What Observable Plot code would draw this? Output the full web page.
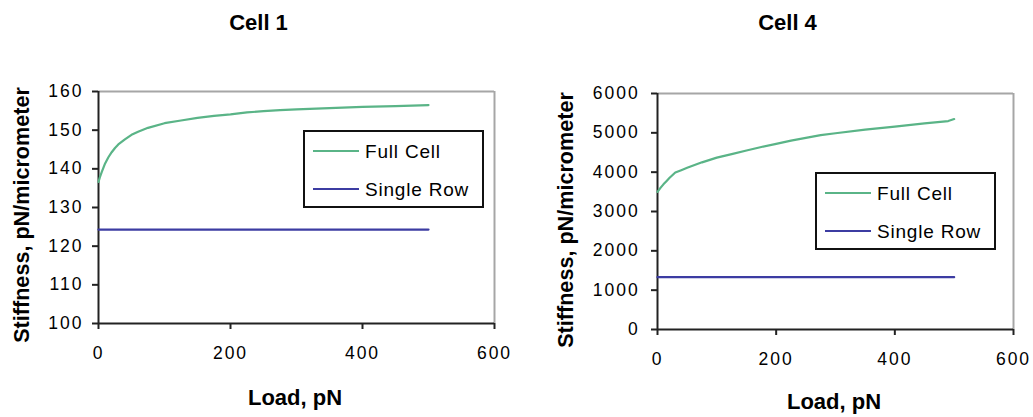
<!DOCTYPE html>
<html>
<head>
<meta charset="utf-8">
<script src="https://cdn.jsdelivr.net/npm/d3@7"></script>
<script src="https://cdn.jsdelivr.net/npm/@observablehq/plot@0.6"></script>
<style>
  html, body { margin: 0; padding: 0; background: #fff; }
  #wrap { position: relative; width: 1033px; height: 417px; overflow: hidden; background: #fff; }
  #wrap > .panel { position: absolute; top: 0; }
  #overlay { position: absolute; left: 0; top: 0; pointer-events: none; }
  .panel svg text { letter-spacing: 2px; }
</style>
</head>
<body>
<div id="wrap">
  <div class="panel" id="p1" style="left:0px"></div>
  <div class="panel" id="p2" style="left:516px"></div>
  <svg id="overlay" width="1033" height="417" font-family="Arial, 'Liberation Sans', sans-serif"></svg>
</div>
<script>
// ---- data ----
const loadTicks = [0, 200, 400, 600];
const cell1Ticks = [100, 110, 120, 130, 140, 150, 160];
const cell4Ticks = [0, 1000, 2000, 3000, 4000, 5000, 6000];

const cell1Load = [0, 2, 5, 10, 15, 20, 25, 30, 40, 50, 60, 75, 100, 125, 150, 175, 200, 225, 250, 275, 300, 350, 400, 450, 500];
const cell1Full = [136.6, 137.8, 139.2, 141.4, 143.0, 144.3, 145.4, 146.3, 147.6, 148.8, 149.6, 150.6, 151.8, 152.5, 153.2, 153.7, 154.1, 154.6, 154.9, 155.2, 155.4, 155.7, 156.0, 156.2, 156.5];
const cell1SingleLoad = [0, 500];
const cell1Single = [124.3, 124.3];

const cell4Load = [0, 5, 10, 15, 20, 25, 30, 40, 50, 75, 100, 125, 150, 175, 200, 225, 250, 275, 300, 350, 400, 450, 490, 500];
const cell4Full = [3500, 3600, 3690, 3770, 3850, 3920, 3990, 4050, 4110, 4250, 4370, 4460, 4550, 4640, 4720, 4800, 4870, 4940, 4990, 5080, 5160, 5240, 5300, 5350];
const cell4SingleLoad = [0, 500];
const cell4Single = [1330, 1330];

const titles = ["Cell 1", "Cell 4"];
const xTitle = "Load, pN";
const yTitle = "Stiffness, pN/micrometer";
const seriesNames = ["Full Cell", "Single Row"];
const seriesColors = ["#5ab487", "#3c3ca2"];

// ---- panels ----
function panel({width, ml, mr, mt, mb, ydom, yticks, loads, full, sLoads, single, yPad}) {
  return Plot.plot({
    width, height: 417,
    marginLeft: ml, marginRight: mr, marginTop: mt, marginBottom: mb,
    style: {fontFamily: "Arial, 'Liberation Sans', sans-serif", fontSize: "17.5px", color: "#000", background: "white", overflow: "visible"},
    x: {domain: [0, 600], label: null},
    y: {domain: ydom, label: null},
    marks: [
      Plot.ruleY([ydom[1]], {stroke: "#a6a6a6", strokeWidth: 2}),
      Plot.ruleX([600], {stroke: "#a6a6a6", strokeWidth: 2}),
      Plot.axisX({ticks: loadTicks, tickSize: 6, tickPadding: 17, tickFormat: "d", fontSize: 17.5, stroke: "#222", strokeWidth: 2, label: null}),
      Plot.axisY({ticks: yticks, tickSize: 6, tickPadding: yPad, tickFormat: "d", fontSize: 17.5, stroke: "#222", strokeWidth: 2, label: null}),
      Plot.ruleX([0], {stroke: "#222", strokeWidth: 2}),
      Plot.ruleY([ydom[0]], {stroke: "#222", strokeWidth: 2}),
      Plot.line(loads, {x: loads, y: full, stroke: seriesColors[0], strokeWidth: 2.2}),
      Plot.line(sLoads, {x: sLoads, y: single, stroke: seriesColors[1], strokeWidth: 2.2})
    ]
  });
}

document.getElementById("p1").appendChild(panel({
  width: 516, ml: 98, mr: 22, mt: 91, mb: 94,
  ydom: [100, 160], yticks: cell1Ticks,
  loads: cell1Load, full: cell1Full, sLoads: cell1SingleLoad, single: cell1Single, yPad: 9
}));
document.getElementById("p2").appendChild(panel({
  width: 517, ml: 141, mr: 20, mt: 93, mb: 88,
  ydom: [0, 6000], yticks: cell4Ticks,
  loads: cell4Load, full: cell4Full, sLoads: cell4SingleLoad, single: cell4Single, yPad: 11.7
}));

// ---- titles, axis titles, legends ----
const ov = d3.select("#overlay");
const layout = [
  {title: [258.5, 29.5], xt: [295, 405], yt: [28.5, 215], leg: [304, 131]},
  {title: [787.5, 30], xt: [834, 409], yt: [573, 220], leg: [816, 173]}
];
layout.forEach((L, i) => {
  ov.append("text").attr("x", L.title[0]).attr("y", L.title[1]).attr("text-anchor", "middle")
    .attr("font-weight", "bold").attr("font-size", 22).text(titles[i]);
  ov.append("text").attr("x", L.xt[0]).attr("y", L.xt[1]).attr("text-anchor", "middle")
    .attr("font-weight", "bold").attr("font-size", 22).text(xTitle);
  ov.append("text").attr("transform", `translate(${L.yt[0]},${L.yt[1]}) rotate(-90)`).attr("text-anchor", "middle")
    .attr("font-weight", "bold").attr("font-size", 21.6).text(yTitle);
  const g = ov.append("g").attr("transform", `translate(${L.leg[0]},${L.leg[1]})`);
  g.append("rect").attr("x", 0).attr("y", 0).attr("width", 179).attr("height", 76)
    .attr("fill", "white").attr("stroke", "#111").attr("stroke-width", 2);
  seriesNames.forEach((name, j) => {
    const yy = 20 + j * 38;
    g.append("line").attr("x1", 9).attr("x2", 55).attr("y1", yy).attr("y2", yy)
      .attr("stroke", seriesColors[j]).attr("stroke-width", 2.2);
    g.append("text").attr("x", 61).attr("y", yy + 6.5).attr("font-size", 19)
      .attr("letter-spacing", "0.8px").text(name);
  });
});
</script>
</body>
</html>
